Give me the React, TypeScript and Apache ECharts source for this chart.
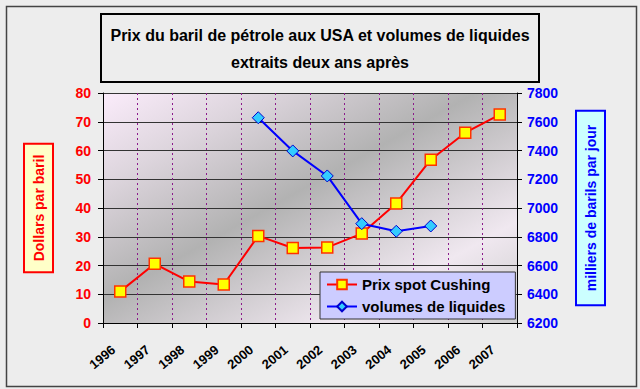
import React, { useEffect, useRef } from "react";
import * as echarts from "echarts";

const years = ["1996", "1997", "1998", "1999", "2000", "2001", "2002", "2003", "2004", "2005", "2006", "2007"];
const prixSpot = [11, 20.6, 14.4, 13.4, 30.3, 26.1, 26.3, 31.1, 41.6, 56.8, 66.2, 72.5];
const volumes = [null, null, null, null, 7628, 7397, 7223, 6891, 6838, 6875, null, null];

const FONT = "Arial, 'Liberation Sans', sans-serif";

export default function App() {
  const ref = useRef<HTMLDivElement>(null);
  useEffect(() => {
    if (!ref.current) return;
    const chart = echarts.init(ref.current, null, { renderer: "svg" });
    chart.setOption({
      animation: false,
      backgroundColor: "#ededed",
      title: {
        text: "Prix du baril de pétrole aux USA et volumes de liquides\nextraits deux ans après",
        left: "center",
        top: 22,
        padding: 0,
        textStyle: { fontFamily: FONT, fontSize: 16, fontWeight: "bold", color: "#000", lineHeight: 27 },
      },
      graphic: [
        { type: "rect", left: 4, top: 4, shape: { x: 0, y: 0, width: 630, height: 380 }, style: { fill: "none", stroke: "#444", lineWidth: 1.5 } },
        { type: "rect", shape: { x: 101, y: 14, width: 438, height: 68 }, style: { fill: "none", stroke: "#000", lineWidth: 2 } },
      ],
      legend: {
        left: 320,
        top: 272,
        orient: "vertical",
        backgroundColor: "#ccccff",
        borderColor: "#333",
        borderWidth: 1,
        padding: [5, 10, 5, 6],
        itemGap: 7,
        itemWidth: 30,
        itemHeight: 12,
        textStyle: { fontFamily: FONT, fontSize: 15, fontWeight: "bold", color: "#000" },
        data: ["Prix spot Cushing", "volumes de liquides"],
      },
      grid: {
        left: 103,
        right: 123,
        top: 93,
        bottom: 66,
        show: true,
        borderWidth: 0,
        backgroundColor: new echarts.graphic.LinearGradient(0, 0, 1, 1, [
          { offset: 0, color: "#fbecfb" },
          { offset: 0.2, color: "#ddd5dd" },
          { offset: 0.45, color: "#b2b2b2" },
          { offset: 0.78, color: "#f0e8f0" },
          { offset: 1, color: "#cccccc" },
        ]),
      },
      xAxis: {
        type: "category",
        data: years,
        boundaryGap: true,
        axisLine: { lineStyle: { color: "#000", width: 1 } },
        axisTick: { show: true, alignWithLabel: false, length: 5, lineStyle: { color: "#000" } },
        splitLine: { show: true, lineStyle: { color: "#8b1a8b", type: [2, 3], width: 1 } },
        axisLabel: {
          interval: 0,
          rotate: 40,
          margin: 19,
          fontFamily: FONT,
          fontSize: 13,
          fontWeight: "bold",
          color: "#000",
          formatter: (v: string) => `${v}{s| }`,
          rich: { s: { width: 9 } },
        },
      },
      yAxis: [
        {
          type: "value",
          min: 0,
          max: 80,
          interval: 10,
          position: "left",
          name: "Dollars par baril",
          nameLocation: "middle",
          nameRotate: 90,
          nameGap: 51,
          nameTextStyle: {
            fontFamily: FONT,
            fontSize: 14,
            fontWeight: "bold",
            color: "#ff0000",
            backgroundColor: "#ffffc8",
            borderColor: "#ff0000",
            borderWidth: 2,
            padding: [7, 10, 6, 10],
          },
          axisLine: { show: true, lineStyle: { color: "#000", width: 1 } },
          axisTick: { show: true, length: 5, lineStyle: { color: "#000" } },
          splitLine: { show: true, lineStyle: { color: "#333", width: 1 } },
          axisLabel: { margin: 12, fontFamily: FONT, fontSize: 14, fontWeight: "bold", color: "#ff0000" },
        },
        {
          type: "value",
          min: 6200,
          max: 7800,
          interval: 200,
          position: "right",
          name: "milliers de barils par jour",
          nameLocation: "middle",
          nameRotate: 90,
          nameGap: 60,
          nameTextStyle: {
            fontFamily: FONT,
            fontSize: 14,
            fontWeight: "bold",
            color: "#0000ff",
            backgroundColor: "#ccffff",
            borderColor: "#0000ff",
            borderWidth: 2,
            padding: [7, 13, 6, 13],
          },
          axisLine: { show: true, lineStyle: { color: "#000", width: 1 } },
          axisTick: { show: true, length: 5, lineStyle: { color: "#000" } },
          splitLine: { show: false },
          axisLabel: {
            margin: 10,
            fontFamily: FONT,
            fontSize: 14,
            fontWeight: "bold",
            color: "#0000ff",
            formatter: (v: number) => String(v),
          },
        },
      ],
      series: [
        {
          name: "Prix spot Cushing",
          type: "line",
          yAxisIndex: 0,
          data: prixSpot,
          symbol: "rect",
          symbolSize: 11,
          lineStyle: { color: "#ff0000", width: 2 },
          itemStyle: { color: "#ffff00", borderColor: "#ff3300", borderWidth: 1.5 },
          z: 3,
        },
        {
          name: "volumes de liquides",
          type: "line",
          yAxisIndex: 1,
          data: volumes,
          symbol: "diamond",
          symbolSize: 12,
          lineStyle: { color: "#0000ff", width: 2 },
          itemStyle: { color: "#33ccff", borderColor: "#0000cc", borderWidth: 1 },
          z: 3,
        },
      ],
    });
    return () => chart.dispose();
  }, []);
  return <div ref={ref} style={{ position: "fixed", left: 0, top: 0, width: 640, height: 389 }} />;
}
